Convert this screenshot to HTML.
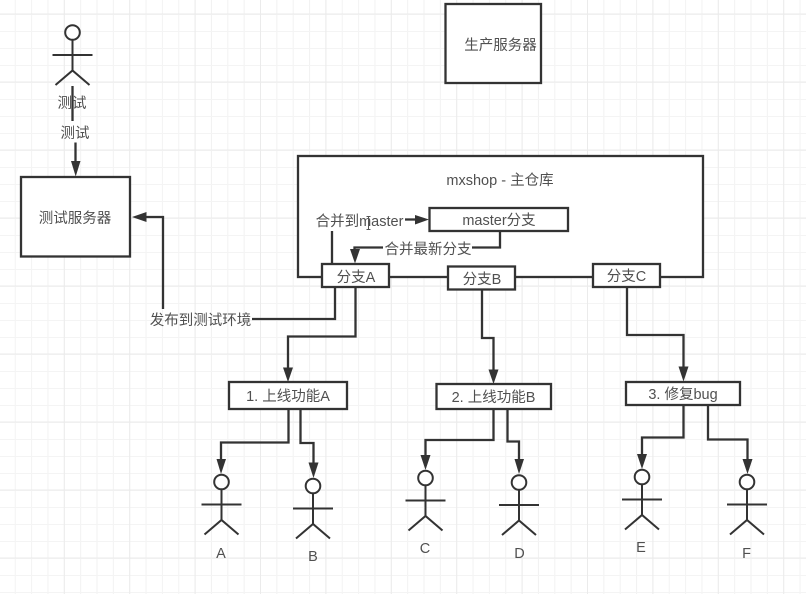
<!DOCTYPE html>
<html>
<head>
<meta charset="utf-8">
<style>
html,body{margin:0;padding:0;background:#fff;width:806px;height:594px;overflow:hidden}
svg{display:block;filter:blur(.35px)}
text{font-family:"Liberation Sans","Noto Sans CJK SC",sans-serif;font-size:14.5px;fill:#505050;text-anchor:middle;dominant-baseline:central;transform:translateY(1px)}
.l{fill:none;stroke:#333;stroke-width:2.3}
.b{fill:#fff;stroke:#333;stroke-width:2.3}
.a{fill:#333;stroke:none}
.m{fill:none;stroke:#333;stroke-width:2}
</style>
</head>
<body>
<svg width="806" height="594" viewBox="0 0 806 594" xmlns="http://www.w3.org/2000/svg">
<defs>
<pattern id="gv" patternUnits="userSpaceOnUse" x="-1.6" y="0" width="16.35" height="17"><path d="M.5 0V17" stroke="#f2f2f2" stroke-width="1" fill="none"/></pattern>
<pattern id="gh" patternUnits="userSpaceOnUse" x="0" y="-3" width="16.35" height="17"><path d="M0 .5H17" stroke="#f4f4f4" stroke-width="1" fill="none"/></pattern>
<pattern id="Gv" patternUnits="userSpaceOnUse" x="-1.6" y="0" width="65.4" height="68"><path d="M.5 0V68" stroke="#ebebeb" stroke-width="1" fill="none"/></pattern>
<pattern id="Gh" patternUnits="userSpaceOnUse" x="0" y="13.5" width="65.4" height="68"><path d="M0 .5H66" stroke="#ebebeb" stroke-width="1" fill="none"/></pattern>
<g id="actor">
<circle cx="0" cy="0" r="7.3" fill="#fff" stroke="#333" stroke-width="2"/>
<path class="m" d="M0 7.3V38M-20 22.5H20M-17 52.5L0 38L17 52.5"/>
</g>
</defs>
<rect width="806" height="594" fill="#fff"/>
<rect width="806" height="594" fill="url(#gv)"/>
<rect width="806" height="594" fill="url(#gh)"/>
<rect width="806" height="594" fill="url(#Gv)"/>
<rect width="806" height="594" fill="url(#Gh)"/>

<!-- main repo -->
<rect x="298" y="156" width="405" height="121" fill="#fff" stroke="#333" stroke-width="2.3"/>
<text x="500" y="180">mxshop - 主仓库</text>

<!-- servers -->
<rect class="b" x="445.500" y="4" width="95.500" height="79"/>
<text x="500.500" y="45">生产服务器</text>
<rect class="b" x="21" y="177" width="109" height="79.500"/>
<text x="75" y="218">测试服务器</text>

<!-- top actor -->
<use href="#actor" x="72.500" y="32.500"/>
<path class="l" d="M72.500 86V121"/>
<text x="72" y="103">测试</text>
<text x="75" y="133">测试</text>
<path class="l" d="M75.500 142.500V163"/>
<path class="a" d="M71 161H80.500L75.700 176.500Z"/>

<!-- publish connector -->
<path class="l" d="M335 287V319H252"/>
<path class="l" d="M163 309V217H143"/>
<path class="a" d="M146.500 212V222L132 217Z"/>
<text x="200.500" y="320">发布到测试环境</text>

<!-- merge connectors -->
<path class="l" d="M332 264V231"/>
<text x="359.500" y="221">合并到master</text>
<path class="m" style="stroke:#555;stroke-width:1" d="M368.500 217V229M366.500 216.500H370.500M366.500 229.500H370.500"/>
<path class="l" d="M405 219.500H418"/>
<path class="a" d="M415 215V224.500L429 219.500Z"/>
<path class="l" d="M500 231V247.500H472"/>
<path class="l" d="M383 247.500H354.500V252"/>
<text x="428" y="249">合并最新分支</text>
<path class="a" d="M350 249H360L355 263.500Z"/>

<!-- branch down connectors -->
<path class="l" d="M355.500 287V336.500H288V370"/>
<path class="a" d="M283 367.500H293L288 382Z"/>
<path class="l" d="M482 289V338H493.500V372"/>
<path class="a" d="M488.500 369.500H498.500L493.500 384Z"/>
<path class="l" d="M627 287V335H683.500V370"/>
<path class="a" d="M678.500 366.500H688.500L683.500 381.500Z"/>

<!-- boxes -->
<rect class="b" x="429.500" y="208" width="138.500" height="23"/>
<text x="499" y="220">master分支</text>
<rect class="b" x="322" y="264" width="67" height="23"/>
<text x="356" y="277">分支A</text>
<rect class="b" x="448" y="266.500" width="67" height="23"/>
<text x="482" y="279">分支B</text>
<rect class="b" x="593" y="264" width="67" height="23"/>
<text x="626.500" y="276">分支C</text>
<rect class="b" x="229" y="382" width="118" height="27"/>
<text x="288" y="396">1. 上线功能A</text>
<rect class="b" x="436.500" y="384" width="114.500" height="25"/>
<text x="493.500" y="397">2. 上线功能B</text>
<rect class="b" x="626" y="382" width="114" height="23"/>
<text x="683" y="394">3. 修复bug</text>

<!-- feature to actors -->
<path class="l" d="M288.500 409V442.500H221V462"/>
<path class="a" d="M216.500 459H226L221 474Z"/>
<path class="l" d="M300.500 409V443H313.500V465"/>
<path class="a" d="M308.500 462.500H318.500L313.500 478Z"/>
<path class="l" d="M493.500 409V440H425.500V458"/>
<path class="a" d="M420.500 455H430.500L425.500 470Z"/>
<path class="l" d="M507.500 409V441.500H519V461"/>
<path class="a" d="M514.500 459H524L519 474Z"/>
<path class="l" d="M683.500 405V437.500H642V457"/>
<path class="a" d="M637 454H647L642 469Z"/>
<path class="l" d="M708 405V439.500H747.500V461"/>
<path class="a" d="M742.500 459H752.500L747.500 474Z"/>

<!-- actors -->
<use href="#actor" x="221.500" y="482"/>
<text x="221" y="553">A</text>
<use href="#actor" x="313" y="486"/>
<text x="313" y="556">B</text>
<use href="#actor" x="425.500" y="478"/>
<text x="425" y="548">C</text>
<use href="#actor" x="519" y="482.500"/>
<text x="519.500" y="553">D</text>
<use href="#actor" x="642" y="477"/>
<text x="641" y="547">E</text>
<use href="#actor" x="747" y="482"/>
<text x="746.500" y="553">F</text>
</svg>
</body>
</html>
